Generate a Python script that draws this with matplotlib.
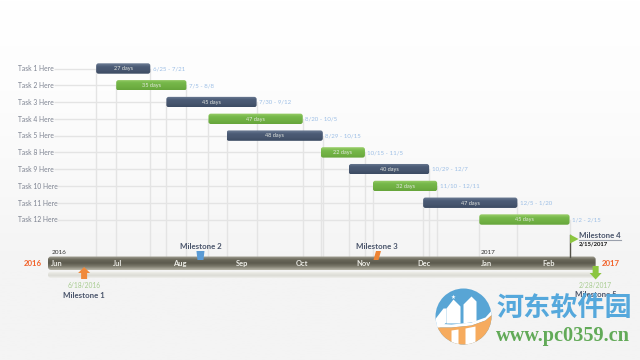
import matplotlib
matplotlib.use("Agg")
import matplotlib.pyplot as plt
from matplotlib.colors import LinearSegmentedColormap
from matplotlib.patches import Ellipse, FancyBboxPatch, Polygon
import numpy as np
import pandas as pd

plt.rcParams['font.family'] = ['Lato', 'DejaVu Sans']

# data
task_names = ['Task 1 Here', 'Task 2 Here', 'Task 3 Here', 'Task 4 Here', 'Task 5 Here',
              'Task 8 Here', 'Task 9 Here', 'Task 10 Here', 'Task 11 Here', 'Task 12 Here']
task_starts = ['2016-06-25', '2016-07-05', '2016-07-30', '2016-08-20', '2016-08-29',
               '2016-10-15', '2016-10-29', '2016-11-10', '2016-12-05', '2017-01-02']
task_ends = ['2016-07-21', '2016-08-08', '2016-09-12', '2016-10-05', '2016-10-15',
             '2016-11-05', '2016-12-07', '2016-12-11', '2017-01-20', '2017-02-15']
task_days = [27, 35, 45, 47, 48, 22, 40, 32, 47, 45]
task_ranges = ['6/25 - 7/21', '7/5 - 8/8', '7/30 - 9/12', '8/20 - 10/5', '8/29 - 10/15',
               '10/15 - 11/5', '10/29 - 12/7', '11/10 - 12/11', '12/5 - 1/20', '1/2 - 2/15']
task_kinds = ['navy', 'green', 'navy', 'green', 'navy', 'green', 'navy', 'green', 'navy', 'green']

month_names = ['Jun', 'Jul', 'Aug', 'Sep', 'Oct', 'Nov', 'Dec', 'Jan', 'Feb']
month_starts = ['2016-06-01', '2016-07-01', '2016-08-01', '2016-09-01', '2016-10-01',
                '2016-11-01', '2016-12-01', '2017-01-01', '2017-02-01']
timeline_start = '2016-06-01'
timeline_end = '2017-02-28'

milestone_names = ['Milestone 1', 'Milestone 2', 'Milestone 3', 'Milestone 4', 'Milestone 5']
milestone_dates = ['2016-06-18', '2016-08-15', '2016-11-11', '2017-02-15', '2017-02-28']

GRADIENTS = {
    'navy': ['#6f7f98', '#4c5c76', '#47566f', '#3c4b63'],
    'green': ['#9ccf6c', '#76b84a', '#70b043', '#66a53b'],
    'timeline': ['#a9a799', '#6a685b', '#5c5a4e', '#7d7b6d', '#b9b7aa'],
    'shadow': ['#f5f5f2', '#e6e6e0', '#dcdcd6', '#efefec'],
}
LINE = '#e4e4e4'
SLATE = '#4a556b'
BLUE = '#58a5d5'
ORANGE = '#f6ab5e'
FLAG_GREEN = '#8cc63f'


def day(date):
    return (pd.Timestamp(date) - pd.Timestamp(timeline_start)).days


def gradient_box(ax, x0, x1, y0, y1, colors, zorder, rounding=1.5):
    cmap = LinearSegmentedColormap.from_list('g', colors)
    im = ax.imshow(np.linspace(0, 1, 64).reshape(-1, 1), cmap=cmap, aspect='auto',
                   extent=(x0, x1, y1, y0), zorder=zorder)
    # rounding is given in pixels, the x axis runs in days
    box = FancyBboxPatch((x0, y0), x1 - x0, y1 - y0, boxstyle='round,pad=0,rounding_size=%f' % rounding,
                         mutation_aspect=PX_PER_DAY, fc='none', ec='none', transform=ax.transData)
    ax.add_patch(box)
    im.set_clip_path(box)


PX_PER_DAY = 2.006
pd_ = 1 / PX_PER_DAY
fig = plt.figure(figsize=(6.4, 3.6), dpi=100)
ax = fig.add_axes([0, 0, 1, 1])
ax.axis('off')
xlim = (-48 * pd_, (640 - 48) * pd_)
ylim = (360, 0)  # y runs in pixels, rows and strips are laid out by hand

# page background
bg = LinearSegmentedColormap.from_list('bg', ['#ffffff', '#fdfdfd', '#f9f9f9', '#f4f4f4', '#f4f4f4'])
ax.imshow(np.linspace(0, 1, 128).reshape(-1, 1), cmap=bg, aspect='auto',
          extent=(xlim[0], xlim[1], 360, 0), zorder=0)

row_y = 68.5 + np.arange(len(task_names)) * 16.78
bar_half = 5.2

# grid, then bars
for i, name in enumerate(task_names):
    start = day(task_starts[i])
    end = day(task_ends[i]) + 1
    y = row_y[i]
    ax.plot([(53.5 if i < 7 else 56.5) * pd_ - 48 * pd_, start], [y, y],
            color=LINE, lw=1.0, zorder=1, solid_capstyle='butt')
    ax.plot([start, start], [y, 257], color=LINE, lw=1.0, zorder=1)
    ax.plot([end, end], [y, 257], color=LINE, lw=1.0, zorder=1)

for i, name in enumerate(task_names):
    start = day(task_starts[i])
    end = day(task_ends[i]) + 1
    y = row_y[i]
    gradient_box(ax, start, end, y - bar_half, y + bar_half, GRADIENTS[task_kinds[i]], 3, 1.2)
    ax.text(18 * pd_ - 48 * pd_, y + 0.3, name, ha='left', va='center', fontsize=4.9, color='#7c8290', zorder=4)
    ax.text((start + end) / 2, y + 0.3, '%d days' % task_days[i], ha='center', va='center', fontsize=4.0,
            color='#e6e9e2', zorder=4)
    ax.text(end + 1.2, y + 0.3, task_ranges[i], ha='left', va='center', fontsize=4.4, color='#9dbfe6', zorder=4)

# timeline strip
t0 = day(timeline_start)
t1 = day(timeline_end) + 1
gradient_box(ax, t0, t1, 271.5, 278, GRADIENTS['shadow'], 2, 1.5)
gradient_box(ax, t0, t1, 256.5, 270, GRADIENTS['timeline'], 3, 1.5)
for name, start in zip(month_names, month_starts):
    ax.annotate(name, (day(start), 263.5), xytext=(9, 0), textcoords='offset pixels', ha='center', va='center',
                fontsize=5.4, fontweight='bold', color='#eeeee8', zorder=5)

ax.text(day('2016-06-01') + 2, 252.7, '2016', ha='left', va='center', fontsize=4.6, color='#333333', zorder=5)
ax.text(day('2017-01-01') + 1.5, 252.7, '2017', ha='left', va='center', fontsize=4.6, color='#333333', zorder=5)
ax.text(day('2016-06-01') - 3, 263.2, '2016', ha='right', va='center', fontsize=5.6, fontweight='bold',
        color='#f2622a', zorder=5)
ax.text(t1 + 3, 263.2, '2017', ha='left', va='center', fontsize=5.6, fontweight='bold', color='#f2622a', zorder=5)

# milestones, marker shapes are in pixels around their date
mx = [day(d) + 1 for d in milestone_dates]


def shape(cx, points, **kw):
    patch = Polygon([(cx + p[0] * pd_, p[1]) for p in points], closed=True, ec='none', **kw)
    ax.add_patch(patch)
    return patch


# 1: arrow up
shape(mx[0], [(0, 267), (6, 273), (3, 273), (3, 279), (-3, 279), (-3, 273), (-6, 273)], fc='#f08a3c', zorder=6)
ax.text(mx[0], 285.8, '6/18/2016', ha='center', va='center', fontsize=4.8, color='#a8cc90', zorder=5)
ax.text(mx[0], 295.2, milestone_names[0], ha='center', va='center', fontsize=5.7, fontweight='bold', color=SLATE, zorder=5)
# 2: blue trapezoid
shape(mx[1], [(-4, 251), (4, 251), (3, 260), (-3, 260)], fc='#5b9bd5', zorder=6)
ax.text(mx[1], 246.5, milestone_names[1], ha='center', va='center', fontsize=5.7, fontweight='bold', color=SLATE, zorder=5)
# 3: orange parallelogram
shape(mx[2], [(-1, 251), (4, 251), (1.5, 260), (-3.5, 260)], fc='#ee8434', zorder=6)
ax.text(mx[2], 246.5, milestone_names[2], ha='center', va='center', fontsize=5.7, fontweight='bold', color=SLATE, zorder=5)
# 4: flag
ax.plot([mx[3], mx[3]], [235, 257], color='#55534a', lw=1.0, zorder=5)
shape(mx[3], [(0.5, 234.5), (9, 239), (0.5, 243.5)], fc=FLAG_GREEN, zorder=6)
ax.text(mx[3] + 4.7, 235.5, milestone_names[3], ha='left', va='center', fontsize=5.7, fontweight='bold', color=SLATE, zorder=5)
ax.plot([mx[3] + 4.7, mx[3] + 25.8], [239.6, 239.6], color='#9aa0ac', lw=0.8, zorder=5)
ax.text(mx[3] + 4.7, 243.5, '2/15/2017', ha='left', va='center', fontsize=4.2, fontweight='bold', color='#111111', zorder=5)
# 5: arrow down
shape(mx[4], [(-3, 266), (3, 266), (3, 273), (6, 273), (0, 279.5), (-6, 273), (-3, 273)], fc=FLAG_GREEN, zorder=6)
ax.text(mx[4], 285.8, '2/28/2017', ha='center', va='center', fontsize=4.8, color='#a8cc90', zorder=5)
ax.text(mx[4], 294.2, milestone_names[4], ha='center', va='center', fontsize=5.7, fontweight='bold', color=SLATE, zorder=5)

# watermark, a disc of 28 px radius
cx = (463.5 - 48) * pd_
cy = 316.5
disc = Ellipse((cx, cy), 56 * pd_, 56, fc=BLUE, ec='none', zorder=7)
ax.add_patch(disc)


def logo_part(points, color, zorder):
    patch = shape(cx, [(p[0], cy + p[1]) for p in points], fc=color, zorder=zorder)
    patch.set_clip_path(disc)


logo_part([(-30, 5), (-20, -8), (-17, -8), (-17, 6), (-22, 10), (-30, 14)], '#ffffff', 8)
logo_part([(-17, 7), (-17, -8), (-10, -17), (-3, -10), (-3, 7)], '#ffffff', 8)
logo_part([(0, 7), (0, -12), (8, -20), (13, -15), (13, 5)], '#ffffff', 8)
logo_part([(-30, 7), (-12, 8), (8, 6), (22, 1), (30, -8), (30, -3), (22, 4), (8, 9), (-12, 11), (-30, 11)], '#ffffff', 8)
logo_part([(-30, 11), (-12, 11), (8, 9), (22, 4), (30, -3), (30, 30), (-30, 30)], ORANGE, 8)
logo_part([(-12, 14), (-5, 13), (-5, 30), (-12, 30)], '#ffffff', 9)
logo_part([(2, 12), (12, 10), (12, 30), (2, 30)], '#ffffff', 9)
ax.text(cx - 10 * pd_, cy - 19, '★', ha='center', va='center', fontsize=4, color='#ffffff', zorder=9,
        family=['DejaVu Sans'])
ax.text((496 - 48) * pd_, 308, '河东软件园', ha='left', va='center', fontsize=19.5, fontweight='bold',
        color='#55a8dc', zorder=9, family=['Noto Sans CJK SC', 'DejaVu Sans'])
ax.text((496 - 48) * pd_, 336, 'www.pc0359.cn', ha='left', va='center', fontsize=14.6, fontweight='bold',
        color='#62aa58', zorder=9, family=['Liberation Serif'])

ax.set_xlim(xlim)
ax.set_ylim(ylim)
fig.savefig('out.png', dpi=100)
plt.close(fig)
